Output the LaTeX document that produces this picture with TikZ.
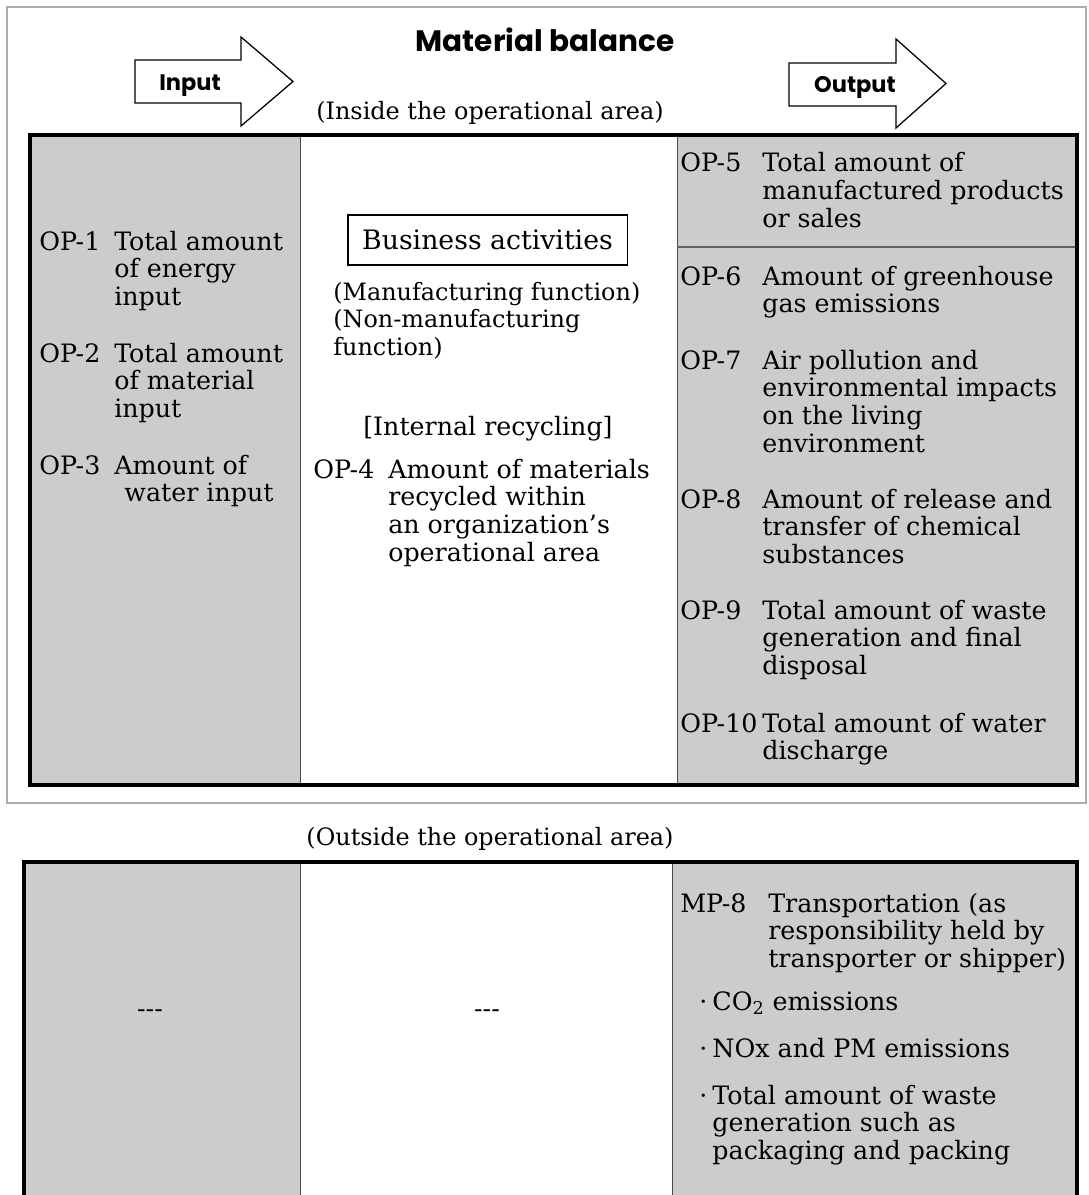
\documentclass[tikz,border=0pt]{standalone}
\usepackage{fontspec}
\setmainfont{DejaVu Serif}
\newfontfamily\headfont{Poppins}
\usetikzlibrary{positioning}
\definecolor{cellgray}{gray}{0.8}
\newcommand{\bodysize}{\fontsize{18}{19.9}\selectfont}
\newcommand{\notesize}{\fontsize{17}{19.9}\selectfont}
\newcommand{\oprow}[3][1.875cm]{\makebox[#1][l]{#2}\begin{tabular}[t]{@{}l@{}}#3\end{tabular}}
\tikzset{
  frame/.style={draw=gray!65, line width=1.1pt},
  thickbox/.style={draw=black, line width=2.2pt},
  divider/.style={draw=gray!60!black, line width=0.6pt},
  hline/.style={draw=gray!75!black, line width=1.2pt},
  bigarrow/.style={draw=black, line width=0.9pt, fill=white, line join=miter},
  head/.style={font=\headfont\bfseries\fontsize{21}{24}\selectfont, inner sep=0pt},
  arrowtxt/.style={font=\headfont\bfseries\fontsize{16}{19}\selectfont, inner sep=0pt},
  txt/.style={font=\bodysize, inner sep=0pt, anchor=base west},
  ctxt/.style={font=\bodysize, inner sep=0pt, anchor=base},
  note/.style={font=\notesize, inner sep=0pt, anchor=base},
  bizbox/.style={draw, line width=0.9pt, font=\fontsize{19}{22}\selectfont, minimum width=6.98cm,
                 minimum height=1.25cm, inner sep=0pt}
}

\begin{document}
\begin{tikzpicture}[x=0.025cm, y=-0.025cm]
  \clip (0,0) rectangle (1089,1195);
  \fill[white] (0,0) rectangle (1089,1195);

  % frame round the operational area
  \draw[frame] (7,7) rectangle (1086,803);

  % heading and the two arrows
  \node[head, anchor=base] (title) at (545,52) {Material balance};
  \draw[bigarrow] (135,60) -- (241,60) -- (241,37) -- (293,81.5) -- (241,126)
                  -- (241,103) -- (135,103) -- cycle;
  \node[arrowtxt, anchor=base] (input) at (190,91) {Input};
  \draw[bigarrow] (789,63) -- (896,63) -- (896,39) -- (946,83.5) -- (896,128)
                  -- (896,106) -- (789,106) -- cycle;
  \node[arrowtxt, anchor=base] (output) at (855,93) {Output};
  \node[note] (inside) at (490,120) {(Inside the operational area)};

  % upper table
  \fill[cellgray] (30,135) rectangle (300,785);
  \fill[cellgray] (677,135) rectangle (1077,785);
  \draw[divider] (300,135) -- (300,785);
  \draw[divider] (677,135) -- (677,785);
  \draw[hline] (677,247) -- (1077,247);
  \draw[thickbox] (30,135) rectangle (1077,785);

  % input column
  \node[txt] (op1) at (39,250) {\oprow{OP-1}{Total amount\\of energy\\input}};
  \node[txt] (op2) at (39,362) {\oprow{OP-2}{Total amount\\of material\\input}};
  \node[txt] (op3) at (39,474) {\oprow{OP-3}{Amount of\\\hspace{0.4em}water input}};

  % business activities
  \node[bizbox] (biz) at (487.5,240) {Business activities};
  \node[txt, font=\notesize] (func) at (333,300) {\begin{tabular}[t]{@{}l@{}}(Manufacturing function)\\(Non-manufacturing\\function)\end{tabular}};
  \node[ctxt] (recyc) at (488,435) {[Internal recycling]};
  \node[txt] (op4) at (313,478) {\oprow{OP-4}{Amount of materials\\recycled within\\an organization's\\operational area}};

  % output column
  \node[txt] (op5) at (680,172) {\oprow[2.05cm]{OP-5}{Total amount of\\manufactured products\\or sales}};
  \node[txt] (op6) at (680,285) {\oprow[2.05cm]{OP-6}{Amount of greenhouse\\gas emissions}};
  \node[txt] (op7) at (680,369) {\oprow[2.05cm]{OP-7}{Air pollution and\\environmental impacts\\on the living\\environment}};
  \node[txt] (op8) at (680,508) {\oprow[2.05cm]{OP-8}{Amount of release and\\transfer of chemical\\substances}};
  \node[txt] (op9) at (680,619) {\oprow[2.05cm]{OP-9}{Total amount of waste\\generation and final\\disposal}};
  \node[txt] (op10) at (680,732) {\oprow[2.05cm]{OP-10}{Total amount of water\\discharge}};

  % outside the operational area
  \node[note] (outside) at (490,845) {(Outside the operational area)};
  \fill[cellgray] (24,862) rectangle (300,1200);
  \fill[cellgray] (672,862) rectangle (1077,1200);
  \draw[divider] (300,862) -- (300,1200);
  \draw[divider] (672,862) -- (672,1200);
  \draw[thickbox] (24,1215) -- (24,862) -- (1077,862) -- (1077,1215);

  \node[ctxt] (none1) at (150,1017) {-{}-{}-};
  \node[ctxt] (none2) at (487,1017) {-{}-{}-};

  \node[txt] (mp8) at (680,912) {\oprow[2.2cm]{MP-8}{Transportation (as\\responsibility held by\\transporter or shipper)}};
  \node[txt] (co2) at (699,1010) {\oprow[0.33cm]{·}{CO\textsubscript{2} emissions}};
  \node[txt] (nox) at (699,1057) {\oprow[0.33cm]{·}{NOx and PM emissions}};
  \node[txt] (waste) at (699,1104) {\oprow[0.33cm]{·}{Total amount of waste\\generation such as\\packaging and packing}};
\end{tikzpicture}
\end{document}
